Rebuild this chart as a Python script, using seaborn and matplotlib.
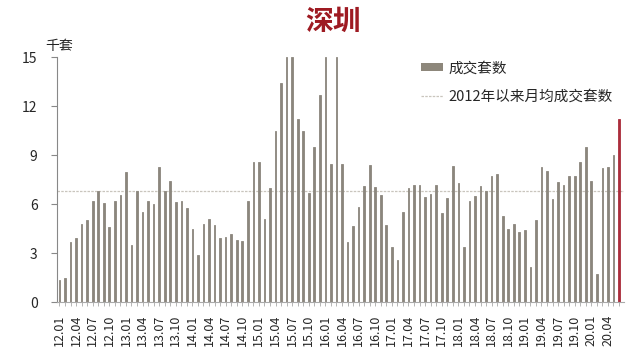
import pandas as pd
import seaborn as sns
import matplotlib.pyplot as plt
from matplotlib.patches import Patch
from matplotlib.lines import Line2D

# 深圳月度成交套数 (千套), 2012.01 - 2020.06
years = [12, 13, 14, 15, 16, 17, 18, 19, 20]
vals_12 = [1.35, 1.45, 3.7, 3.9, 4.8, 5.0, 6.2, 6.8, 6.05, 4.6, 6.2, 6.55]
vals_13 = [7.95, 3.5, 6.8, 5.5, 6.2, 6.0, 8.3, 6.8, 7.4, 6.15, 6.2, 5.75]
vals_14 = [4.5, 2.9, 4.8, 5.1, 4.7, 3.9, 4.0, 4.2, 3.8, 3.75, 6.2, 8.6]
vals_15 = [8.6, 5.1, 7.0, 10.5, 13.4, 15.0, 15.0, 11.2, 10.5, 6.7, 9.5, 12.7]
vals_16 = [15.0, 8.45, 15.0, 8.45, 3.7, 4.65, 5.8, 7.1, 8.4, 7.05, 6.55, 4.7]
vals_17 = [3.4, 2.6, 5.5, 7.0, 7.2, 7.15, 6.45, 6.65, 7.15, 5.45, 6.4, 8.35]
vals_18 = [7.3, 3.4, 6.2, 6.5, 7.1, 6.8, 7.75, 7.85, 5.3, 4.5, 4.8, 4.3]
vals_19 = [4.4, 2.15, 5.0, 8.3, 8.0, 6.3, 7.35, 7.2, 7.75, 7.7, 8.6, 9.5]
vals_20 = [7.4, 1.7, 8.2, 8.3, 9.0, 11.2]
avg_line = 6.8

all_vals = [vals_12, vals_13, vals_14, vals_15, vals_16, vals_17, vals_18, vals_19, vals_20]
months = []
values = []
for y, vs in zip(years, all_vals):
    for i, v in enumerate(vs):
        months.append("%02d.%02d" % (y, i + 1))
        values.append(v)
kind = ["old"] * (len(values) - 1) + ["latest"]
df = pd.DataFrame({"month": months, "value": values, "kind": kind})

bar_col = "#8d877b"
red_col = "#c0182c"

sns.set_style("white")
plt.rcParams['font.family'] = ['Noto Sans CJK SC', 'DejaVu Sans']

fig = plt.figure(figsize=(6.4, 3.55), dpi=100)
ax = fig.add_axes([0.089, 0.149, 0.886, 0.690])

sns.barplot(data=df, x="month", y="value", hue="kind", dodge=False, width=0.3,
            palette={"old": bar_col, "latest": red_col}, legend=False, ax=ax)
# give every bar an outline of its own colour so the thin bars render evenly
for p in ax.patches:
    p.set_edgecolor(p.get_facecolor())
    p.set_linewidth(0.6)

ax.axhline(avg_line, color="#c9c5bd", lw=0.9, ls=(0, (2, 1)), zorder=0)

ax.set_ylim(0, 15)
ax.set_yticks([0, 3, 6, 9, 12, 15])
ax.set_xlim(-0.45, len(values) - 0.1)
ax.set_xticks(range(len(values)))
ax.set_xticklabels([m if i % 3 == 0 else "" for i, m in enumerate(months)], rotation=90)
ax.set_xlabel("")
ax.set_ylabel("")

ax.tick_params(axis="y", direction="out", length=4, width=0.8, color="#888888",
               labelsize=10, pad=10, left=True)
ax.tick_params(axis="x", direction="out", length=3, width=0.6, color="#aaaaaa",
               labelsize=9, pad=6, bottom=True)
for s in ["top", "right"]:
    ax.spines[s].set_visible(False)
ax.spines["left"].set_color("#888888")
ax.spines["bottom"].set_color("#aaaaaa")
ax.spines["left"].set_linewidth(0.8)
ax.spines["bottom"].set_linewidth(0.8)

fig.text(0.52, 0.938, "深圳", color="#9e1a22", fontsize=20, fontweight="bold",
         ha="center", va="center")
fig.text(0.092, 0.871, "千套", fontsize=10, ha="center", va="center", color="#222222")

handles = [Patch(facecolor=bar_col, edgecolor="none"),
           Line2D([0], [0], color="#c9c5bd", lw=0.9, ls=(0, (2, 1)))]
fig.legend(handles, ["成交套数", "2012年以来月均成交套数"], loc="upper left",
           bbox_to_anchor=(0.646, 0.848), frameon=False, fontsize=10.5,
           borderpad=0, labelspacing=1.0, handlelength=1.5, handleheight=0.5,
           handletextpad=0.4)

fig.savefig("out.png", dpi=100)
